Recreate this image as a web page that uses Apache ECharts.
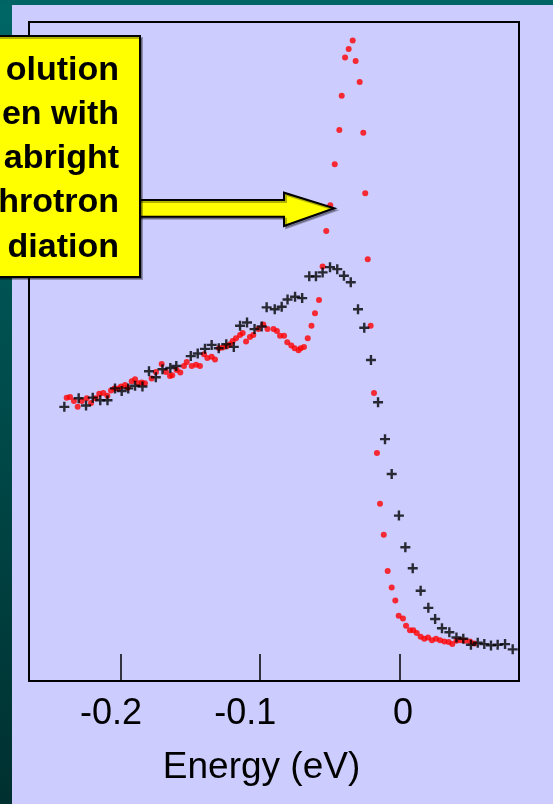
<!DOCTYPE html>
<html>
<head>
<meta charset="utf-8">
<script src="https://cdn.jsdelivr.net/npm/echarts@6/dist/echarts.min.js"></script>
<style>
html,body{margin:0;padding:0;background:#ccccff;}
#chart{width:553px;height:804px;}
</style>
</head>
<body>
<div id="chart"></div>
<script>
// High-resolution spectrum (red dots)
const redEnergy = [-0.2390,-0.2366,-0.2338,-0.2311,-0.2282,-0.2246,-0.2215,-0.2182,-0.2156,-0.2127,-0.2098,-0.2072,-0.2048,-0.2019,-0.2000,-0.1971,-0.1952,-0.1923,-0.1899,-0.1876,-0.1851,-0.1828,-0.1780,-0.1749,-0.1708,-0.1677,-0.1648,-0.1632,-0.1600,-0.1574,-0.1548,-0.1528,-0.1492,-0.1461,-0.1433,-0.1404,-0.1380,-0.1349,-0.1325,-0.1296,-0.1270,-0.1241,-0.1217,-0.1198,-0.1174,-0.1145,-0.1126,-0.1102,-0.1074,-0.1050,-0.1014,-0.0978,-0.0948,-0.0905,-0.0880,-0.0858,-0.0829,-0.0806,-0.0777,-0.0753,-0.0725,-0.0710,-0.0686,-0.0659,-0.0632,-0.0607,-0.0578,-0.0552,-0.0526,-0.0497,-0.0465,-0.0432,-0.0415,-0.0391,-0.0365,-0.0336,-0.0315,-0.0286,-0.0260,-0.0246,-0.0228,-0.0207,-0.0183,-0.0162,-0.0140,-0.0113,-0.0085,-0.0056,-0.0030,-0.0006,0.0025,0.0047,0.0075,0.0099,0.0124,0.0152,0.0178,0.0205,0.0233,0.0262,0.0291,0.0322,0.0353,0.0379,0.0409,0.0438,0.0470,0.0506,0.0537];
const redIntensity = [43.0,43.1,42.5,41.6,42.5,42.9,42.2,42.9,43.6,43.7,43.3,44.1,44.4,44.4,44.7,44.9,44.5,45.5,45.8,45.2,45.3,45.2,45.9,46.9,48.1,46.9,46.3,46.4,47.2,46.8,47.8,48.4,47.8,48.0,47.8,49.6,49.0,49.2,48.8,50.5,50.6,50.8,51.1,51.6,52.0,52.5,52.8,51.5,52.2,52.5,53.4,54.1,53.4,53.4,53.1,52.4,52.4,51.4,50.9,50.5,50.2,50.5,50.7,52.0,53.9,55.8,57.8,62.9,68.3,72.2,78.4,83.6,88.8,94.6,95.9,97.2,94.1,90.9,83.2,74.0,64.0,53.9,43.7,34.6,26.9,22.2,16.7,14.2,12.2,9.9,9.5,8.4,7.7,7.7,7.3,6.7,6.4,6.6,6.2,6.4,6.2,6.0,5.9,5.6,6.1,6.2,6.1,6.0,5.7];

// Lower-resolution spectrum (black crosses)
const crossEnergy = [-0.2407,-0.2304,-0.2251,-0.2203,-0.2149,-0.2097,-0.2043,-0.1995,-0.1948,-0.1899,-0.1846,-0.1799,-0.1750,-0.1702,-0.1646,-0.1603,-0.1499,-0.1449,-0.1397,-0.1349,-0.1298,-0.1244,-0.1190,-0.1145,-0.1095,-0.1041,-0.0990,-0.0954,-0.0896,-0.0846,-0.0804,-0.0750,-0.0699,-0.0648,-0.0600,-0.0552,-0.0499,-0.0447,-0.0399,-0.0350,-0.0298,-0.0253,-0.0205,-0.0154,-0.0104,-0.0056,-0.0004,0.0042,0.0095,0.0152,0.0207,0.0256,0.0305,0.0358,0.0409,0.0458,0.0513,0.0562,0.0609,0.0657,0.0705,0.0758,0.0813];
const crossIntensity = [41.6,42.9,41.8,43.0,42.6,42.6,44.4,44.0,44.4,44.8,44.7,47.0,46.1,47.3,47.5,47.8,49.3,49.7,50.4,51.0,50.5,51.1,50.7,53.9,54.4,53.4,53.8,56.7,56.4,56.8,57.9,58.3,58.1,61.4,61.4,62.0,62.8,62.5,61.5,60.5,56.4,53.6,48.7,42.3,36.7,31.4,25.1,20.3,17.1,13.7,11.1,9.4,8.0,7.4,6.6,6.4,5.5,5.8,5.6,5.4,5.5,5.6,4.8];

const xTicks = [-0.2, -0.1, 0];
const xTickLabels = ['-0.2', '-0.1', '0'];
const xTitle = 'Energy (eV)';
const calloutLines = ['olution', 'en with', 'abright', 'hrotron', 'diation'];

const zip = (a, b) => a.map((v, i) => [v, b[i]]);

const chart = echarts.init(document.getElementById('chart'), null, {renderer: 'canvas'});
const FONT = '"Liberation Sans", Arial, sans-serif';
const labelStyle = {fontSize: 36, color: '#000', fontFamily: FONT};

chart.setOption({
  animation: false,
  backgroundColor: '#ccccff',
  grid: {
    left: 29, right: 34, top: 22, bottom: 123,
    show: true, borderColor: '#000', borderWidth: 2, backgroundColor: 'transparent',
    containLabel: false
  },
  xAxis: {
    type: 'value',
    min: -0.26607, max: 0.08582,
    axisLine: {show: false},
    splitLine: {show: false},
    axisTick: {
      show: true, inside: true, length: 27, customValues: xTicks,
      lineStyle: {color: '#000', width: 1.5}
    },
    axisLabel: {
      show: true, customValues: xTicks, margin: 15,
      fontSize: 36, color: '#000', fontFamily: FONT,
      formatter: v => {
        const i = xTicks.findIndex(t => Math.abs(t - v) < 1e-9);
        return ['{a|', '{b|', '{c|'][i] + xTickLabels[i] + '}';
      },
      rich: {
        a: Object.assign({padding: [0, 20, 0, 0]}, labelStyle),
        b: Object.assign({padding: [0, 30, 0, 0]}, labelStyle),
        c: Object.assign({padding: [0, 0, 0, 7]}, labelStyle)
      }
    },
    name: xTitle, nameLocation: 'middle', nameGap: 68,
    nameTextStyle: {fontSize: 37, color: '#000', fontFamily: FONT, padding: [0, 25, 0, 0]}
  },
  yAxis: {
    type: 'value', min: 0, max: 100,
    axisLine: {show: false}, axisTick: {show: false},
    axisLabel: {show: false}, splitLine: {show: false}
  },
  series: [
    {
      type: 'scatter', data: zip(redEnergy, redIntensity),
      symbol: 'circle', symbolSize: 6,
      itemStyle: {color: '#ff0000'}, silent: true, z: 2
    },
    {
      type: 'scatter', data: zip(crossEnergy, crossIntensity),
      symbol: 'path://M0,3.8 H10 V6.2 H0 Z M3.8,0 H6.2 V10 H3.8 Z',
      symbolSize: 10,
      itemStyle: {color: '#000'}, silent: true, z: 3
    }
  ],
  graphic: [
    {
      type: 'rect', silent: true, z: 0,
      shape: {x: 0, y: 0, width: 12, height: 804},
      style: {fill: new echarts.graphic.LinearGradient(0, 0, 0, 1, [
        {offset: 0, color: '#006666'}, {offset: 1, color: '#003030'}
      ])}
    },
    {
      type: 'rect', silent: true, z: 0,
      shape: {x: 0, y: 0, width: 553, height: 5},
      style: {fill: '#006464'}
    },
    {
      type: 'polygon', silent: true, z: 100,
      shape: {points: [[120, 200], [284, 200], [284, 192.7], [334.3, 208.3], [284, 226], [284, 216.7], [120, 216.7]]},
      style: {fill: '#ffff00', stroke: '#000', lineWidth: 2,
        shadowColor: 'rgba(0,0,0,0.3)', shadowOffsetX: 2, shadowOffsetY: 2, shadowBlur: 0}
    },
    {
      type: 'rect', silent: true, z: 101,
      shape: {x: -20, y: 36, width: 160, height: 241},
      style: {fill: '#ffff00', stroke: '#000', lineWidth: 2,
        shadowColor: 'rgba(0,0,0,0.3)', shadowOffsetX: 2, shadowOffsetY: 2, shadowBlur: 0}
    },
    {
      type: 'text', silent: true, z: 102,
      style: {
        text: calloutLines.join('\n'),
        x: 119, y: 48,
        align: 'right', verticalAlign: 'top',
        font: 'bold 34px ' + FONT,
        lineHeight: 44.25,
        fill: '#000'
      }
    }
  ]
});
</script>
</body>
</html>
